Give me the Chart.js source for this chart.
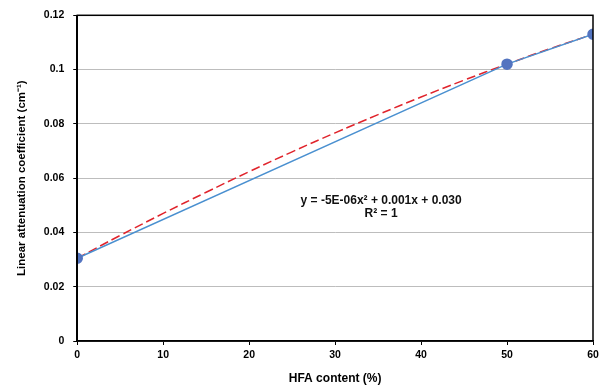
<!DOCTYPE html>
<html>
<head>
<meta charset="utf-8">
<script src="https://cdn.jsdelivr.net/npm/chart.js@4/dist/chart.umd.min.js"></script>
<style>
  html, body { margin: 0; padding: 0; background: #fff; }
  #wrap { width: 607px; height: 391px; }
</style>
</head>
<body>
<div id="wrap"><canvas id="myChart" width="607" height="391"></canvas></div>
<script>
// measured points
const hfaContent = [0, 50, 60];
const attenuation = [0.0305, 0.102, 0.113];

// poly trendline
const trendX = [0, 5, 10, 15, 20, 25, 30, 35, 40, 45, 50, 55, 60];
const trendY = [0.0305, 0.0389, 0.0470, 0.0548, 0.0624, 0.0697, 0.0767, 0.0834, 0.0899, 0.0961, 0.1020, 0.1077, 0.1130];

const eqLines = ["y = -5E-06x\u00b2 + 0.001x + 0.030", "R\u00b2 = 1"];

const font = "'Liberation Sans', Arial, sans-serif";

// frame + equation text
const extras = {
  id: "extras",
  afterDraw(chart) {
    const ctx = chart.ctx;
    const a = chart.chartArea;
    ctx.save();
    ctx.strokeStyle = "#000";
    ctx.lineWidth = 1.5;
    ctx.strokeRect(a.left, a.top, a.right - a.left, a.bottom - a.top);

    const xs = chart.scales.x, ys = chart.scales.y;
    ctx.fillStyle = "#111";
    ctx.font = "bold 12px " + font;
    ctx.textAlign = "center";
    ctx.textBaseline = "middle";
    ctx.fillText(eqLines[0], xs.getPixelForValue(35.35), ys.getPixelForValue(0.0516));
    ctx.fillText(eqLines[1], xs.getPixelForValue(35.35), ys.getPixelForValue(0.0469));
    ctx.restore();
  }
};

new Chart(document.getElementById("myChart").getContext("2d"), {
  type: "scatter",
  data: {
    datasets: [
      {
        label: "data",
        data: hfaContent.map((x, i) => ({ x, y: attenuation[i] })),
        showLine: true,
        borderColor: "#4a90d0",
        borderWidth: 1.5,
        backgroundColor: "#5374c0",
        pointBorderColor: "#5374c0",
        pointRadius: 5,
        order: 1
      },
      {
        label: "trend",
        data: trendX.map((x, i) => ({ x, y: trendY[i] })),
        showLine: true,
        borderColor: "#e0242c",
        borderWidth: 1.5,
        borderDash: [9, 4],
        pointRadius: 0,
        tension: 0.4,
        order: 2
      }
    ]
  },
  options: {
    responsive: false,
    animation: false,
    layout: { padding: { top: 15, right: 14, left: 15, bottom: 1 } },
    plugins: { legend: { display: false }, tooltip: { enabled: false } },
    scales: {
      x: {
        type: "linear",
        min: 0, max: 60,
        ticks: { stepSize: 10, color: "#000", font: { family: font, size: 10.5, weight: "bold" }, padding: 4 },
        grid: { drawOnChartArea: false, tickLength: 4, tickColor: "#000" },
        border: { color: "#000", width: 1.5 },
        title: { display: true, text: "HFA content (%)", color: "#000", font: { family: font, size: 12, weight: "bold" }, padding: { top: 6, bottom: 4 } }
      },
      y: {
        min: 0, max: 0.12,
        ticks: {
          stepSize: 0.02, color: "#000", font: { family: font, size: 10.5, weight: "bold" }, padding: 9,
          callback: v => String(Math.round(v * 100) / 100)
        },
        grid: { color: "#bdbdbd", lineWidth: 1, tickLength: 4, tickColor: "#000" },
        border: { color: "#000", width: 1.5 },
        title: { display: true, text: "Linear attenuation coefficient (cm\u207b\u00b9)", color: "#000", font: { family: font, size: 11.5, weight: "bold" }, padding: { top: 0, bottom: 6 } }
      }
    }
  },
  plugins: [extras]
});
</script>
</body>
</html>
